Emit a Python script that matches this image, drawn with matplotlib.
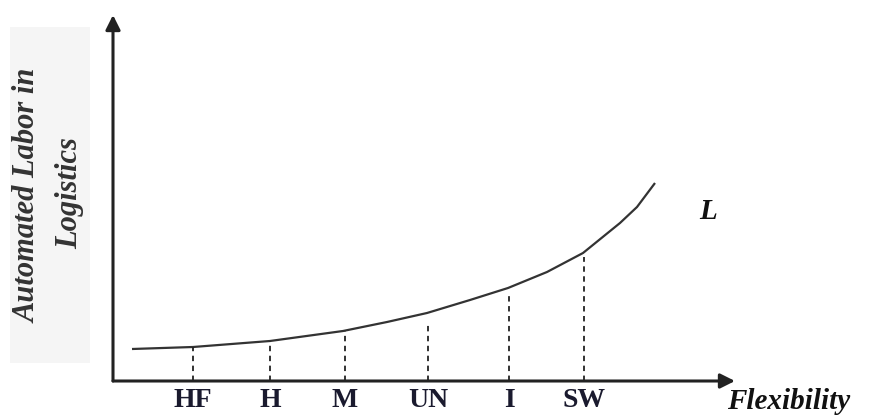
import matplotlib
matplotlib.use("Agg")
import matplotlib.pyplot as plt
from matplotlib.patches import Rectangle

# Data (abstract units)
curve_x = [19, 80, 157, 230, 274, 314, 357, 395, 434, 470, 507, 524, 542]
curve_y = [32, 34, 40, 50, 59, 68, 81, 93, 109, 128, 158, 174, 198]
categories = ["HF", "H", "M", "UN", "I", "SW"]
cat_x = [80, 157, 232, 315, 396, 471]
cat_top = [34, 40, 50, 56, 86, 124]

W, H = 873, 419
fig = plt.figure(figsize=(W / 100, H / 100), dpi=100)
fig.patch.set_facecolor("white")

serif = ["Liberation Serif", "DejaVu Serif"]

# light background behind y label
fig.patches.append(Rectangle((10 / W, 1 - 363 / H), 80 / W, 336 / H,
                             transform=fig.transFigure, facecolor="#f5f5f5",
                             edgecolor="none", zorder=0))

ax = fig.add_axes([113 / W, (H - 381) / H, (735 - 113) / W, (381 - 15) / H])
ax.set_xlim(0, 622)
ax.set_ylim(0, 366)
ax.axis("off")
ax.patch.set_alpha(0)

# axes arrows
ax.annotate("", xy=(1.0, 0), xytext=(0, 0), xycoords="axes fraction",
            arrowprops=dict(arrowstyle="-|>", color="#222222", lw=2.2,
                            mutation_scale=22, shrinkA=0, shrinkB=0))
ax.annotate("", xy=(0, 1.0), xytext=(0, 0), xycoords="axes fraction",
            arrowprops=dict(arrowstyle="-|>", color="#222222", lw=2.2,
                            mutation_scale=22, shrinkA=0, shrinkB=0))

# curve
ax.plot(curve_x, curve_y, color="#333333", lw=1.6,
        solid_joinstyle="round", solid_capstyle="butt")

# dashed drop lines
for x, t in zip(cat_x, cat_top):
    ax.plot([x, x], [0, t], color="#222222", lw=1.3, linestyle=(0, (3, 2.5)))

# category labels
for x, c in zip(cat_x, categories):
    ax.text(x, -7, c, ha="center", va="top", fontsize=20, fontweight="bold",
            family=serif, color="#1a1a2e")

ax.text(614 / 622, -7, "Flexibility", transform=ax.get_yaxis_transform(),
        ha="left", va="top", fontsize=21, fontweight="bold", style="italic",
        family=serif, color="#111111")
ax.text(595, 170, "L", ha="center", va="center", fontsize=21,
        fontweight="bold", style="italic", family=serif, color="#111111")

# y label
fig.text(28 / W, 1 - 196 / H, "Automated Labor in", rotation=90, ha="center",
         va="center", fontsize=22, fontweight="bold", style="italic",
         family=serif, color="#333333")
fig.text(70 / W, 1 - 193 / H, "Logistics", rotation=90, ha="center",
         va="center", fontsize=22, fontweight="bold", style="italic",
         family=serif, color="#333333")

fig.savefig("out.png", dpi=100, facecolor="white")
